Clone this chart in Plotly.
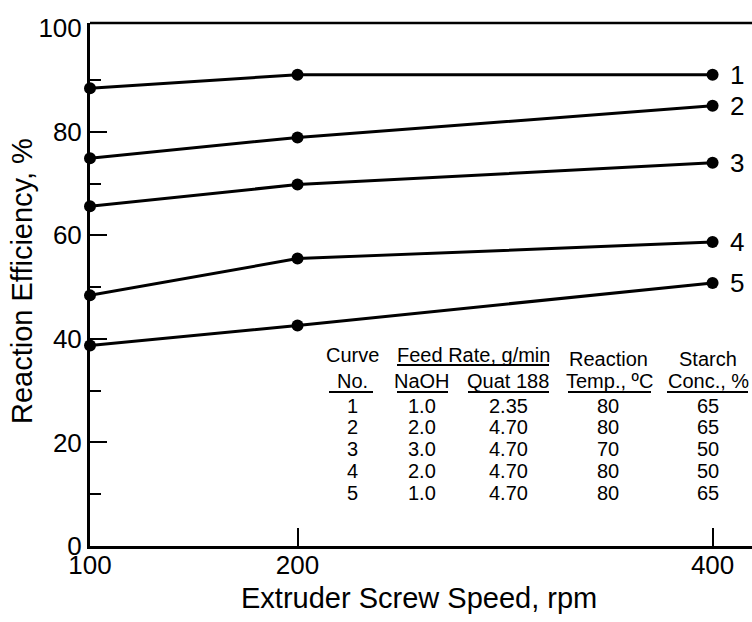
import plotly.graph_objects as go

# ---- data ----
speed = [100, 200, 400]
curve_names = ["1", "2", "3", "4", "5"]
eff1 = [88.4, 91.0, 91.0]
eff2 = [74.9, 78.9, 85.0]
eff3 = [65.6, 69.8, 74.0]
eff4 = [48.4, 55.5, 58.7]
eff5 = [38.7, 42.6, 50.8]
series = [eff1, eff2, eff3, eff4, eff5]

y_ticks = [0, 20, 40, 60, 80, 100]
y_major_marks = [20, 40, 60, 80]
y_minor = [10, 30, 50, 70, 90]
x_ticks = [100, 200, 400]

tab_curve = ["1", "2", "3", "4", "5"]
tab_naoh = ["1.0", "2.0", "3.0", "2.0", "1.0"]
tab_quat = ["2.35", "4.70", "4.70", "4.70", "4.70"]
tab_temp = ["80", "80", "70", "80", "80"]
tab_conc = ["65", "65", "50", "50", "65"]

FONT = "Liberation Sans, Arial, Helvetica, sans-serif"
W, H = 752, 622
L, R, T, B = 90, 0, 23, 76
PW, PH = W - L - R, H - T - B


def px(x):
    return (x - L) / PW


def py(y):
    return (H - B - y) / PH


fig = go.Figure()
for name, vals in zip(curve_names, series):
    fig.add_trace(go.Scatter(
        x=speed, y=vals, mode="lines+markers", name=name,
        line=dict(color="black", width=3),
        marker=dict(color="black", size=12),
        showlegend=False, cliponaxis=False,
    ))
# empty trace so the tick-only overlay axis is drawn
fig.add_trace(go.Scatter(x=[], y=[], yaxis="y2", showlegend=False, hoverinfo="skip"))

annotations = []
for name, vals in zip(curve_names, series):
    annotations.append(dict(x=speed[-1], y=vals[-1], xref="x", yref="y",
                            text=name, showarrow=False, xshift=24,
                            font=dict(size=26, color="black", family=FONT)))

annotations.append(dict(x=px(419), y=py(598), xref="paper", yref="paper",
                        text="Extruder Screw Speed, rpm", showarrow=False,
                        xanchor="center", yanchor="middle",
                        font=dict(size=29, color="black", family=FONT)))
annotations.append(dict(x=px(22), y=py(281), xref="paper", yref="paper",
                        text="Reaction Efficiency, %", showarrow=False,
                        textangle=-90, xanchor="center", yanchor="middle",
                        font=dict(size=29, color="black", family=FONT)))

TF = dict(size=20, color="black", family=FONT)
headers = [
    ("Curve", 352, 355), ("No.", 352, 381),
    ("Feed Rate, g/min", 473, 355), ("NaOH", 422, 381), ("Quat 188", 508, 381),
    ("Reaction", 608, 359), ("Temp., ºC", 609, 381),
    ("Starch", 708, 359), ("Conc., %", 708, 381),
]
for t, x, y in headers:
    annotations.append(dict(x=px(x), y=py(y), xref="paper", yref="paper",
                            text=t, showarrow=False, xanchor="center",
                            yanchor="middle", font=TF))

col_x = [352, 422, 508, 608, 708]
row_y = [406, 427, 449, 471, 493]
for i in range(len(tab_curve)):
    row = [tab_curve[i], tab_naoh[i], tab_quat[i], tab_temp[i], tab_conc[i]]
    for t, x in zip(row, col_x):
        annotations.append(dict(x=px(x), y=py(row_y[i]), xref="paper", yref="paper",
                                text=t, showarrow=False, xanchor="center",
                                yanchor="middle", font=TF))

shapes = []
underlines = [(397, 549, 365), (329, 373, 392), (397, 448, 392), (468, 549, 392),
              (568, 651, 392), (667, 748, 392)]
for x0, x1, y in underlines:
    shapes.append(dict(type="line", xref="paper", yref="paper",
                       x0=px(x0), x1=px(x1), y0=py(y), y1=py(y),
                       line=dict(color="black", width=2)))
shapes.append(dict(type="line", xref="paper", yref="paper", x0=0, x1=1, y0=1, y1=1,
                   line=dict(color="black", width=2.5)))

fig.update_layout(
    width=W, height=H,
    margin=dict(l=L, r=R, t=T, b=B, pad=0),
    paper_bgcolor="white", plot_bgcolor="white",
    font=dict(family=FONT, color="black"),
    showlegend=False,
    xaxis=dict(range=[100, 419], tickvals=x_ticks, ticktext=[str(v) for v in x_ticks],
               ticks="inside", ticklen=18, tickwidth=2.2, tickcolor="black",
               showline=True, linecolor="black", linewidth=3,
               showgrid=False, zeroline=False,
               tickfont=dict(size=26, color="black", family=FONT),
               ticklabelstandoff=-6),
    yaxis=dict(range=[0, 101], tickvals=y_ticks, ticktext=[str(v) for v in y_ticks],
               ticks="", showline=True, linecolor="black", linewidth=3,
               showgrid=False, zeroline=False,
               tickfont=dict(size=26, color="black", family=FONT),
               ticklabelstandoff=0),
    yaxis2=dict(range=[0, 101], overlaying="y", side="left", anchor="x",
                tickvals=y_major_marks, ticks="inside", ticklen=17, tickwidth=2.2,
                tickcolor="black", showticklabels=False, showgrid=False,
                zeroline=False, showline=False,
                minor=dict(tickvals=y_minor, ticks="inside", ticklen=11,
                           tickwidth=2.2, tickcolor="black", showgrid=False)),
    annotations=annotations,
    shapes=shapes,
)

fig.write_html("out.html")
